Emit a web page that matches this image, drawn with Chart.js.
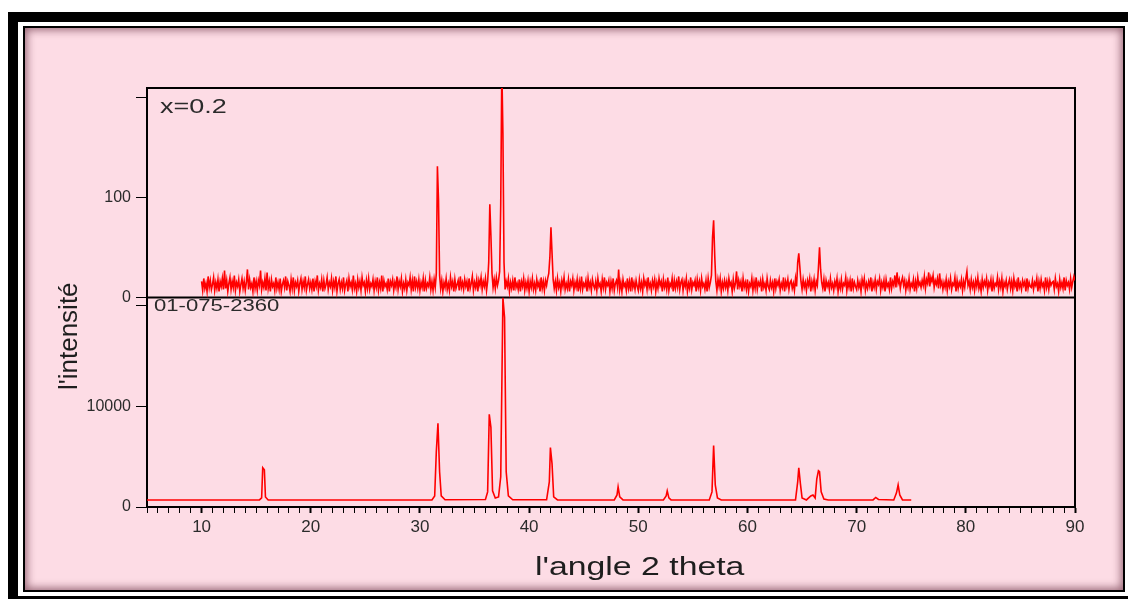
<!DOCTYPE html>
<html>
<head>
<meta charset="utf-8">
<script src="https://cdn.jsdelivr.net/npm/chart.js@4.4.0/dist/chart.umd.min.js"></script>
<style>
  html, body { margin: 0; padding: 0; background: #fff; }
  #page { position: relative; width: 1128px; height: 599px; overflow: hidden; }
  .outer { position: absolute; left: 8px; top: 12px; width: 1130px; height: 587px; box-sizing: border-box;
           border-top: 10px solid #000; border-left: 10px solid #000; border-bottom: 3px solid #000; }
  .inner { position: absolute; left: 23px; top: 26px; width: 1102px; height: 566px; box-sizing: border-box;
           border: 2px solid #000; background: #fddce5; box-shadow: inset 0 0 9px 2px rgba(70, 10, 30, 0.55); }
  canvas { position: absolute; left: 0; top: 0; }
  .lbl { position: absolute; font-family: "Liberation Sans", Arial, sans-serif; color: #2b2b2b; white-space: nowrap;
         transform-origin: 0 0; }
</style>
</head>
<body>
<div id="page">
  <div class="outer"></div>
  <div class="inner"></div>
  <canvas id="xrd-chart" width="1128" height="599"></canvas>
  <div class="lbl" style="left:160px; top:95px; font-size:20px; transform:scaleX(1.35);">x=0.2</div>
  <div class="lbl" style="left:154px; top:296px; font-size:17px; transform:scaleX(1.3);">01-075-2360</div>
  <div class="lbl" style="left:535px; top:551px; font-size:26px; color:#1e1e1e; transform:scaleX(1.3);">l'angle 2 theta</div>
  <div class="lbl" style="left:53px; top:390px; font-size:26px; color:#1e1e1e; transform:rotate(-90deg);">l'intensité</div>
</div>
<script>
// measured pattern x=0.2, one point every 0.1 deg from 10 to 90
const topStart = 10
const topStep = 0.1
const topCounts = [
    16, 7, 19, 9, 14, 6, 21, 10, 17, 8, 13, 20, 7, 15, 9, 18, 6, 16, 11, 19,          // 10
    8, 27, 9, 17, 6, 14, 20, 8, 16, 10, 22, 7, 15, 11, 18, 6, 13, 19, 9, 16,          // 12
    7, 15, 28, 8, 18, 10, 14, 6, 20, 9, 16, 7, 17, 12, 27, 8, 15, 10, 19, 7,          // 14
    25, 9, 16, 6, 18, 11, 14, 7, 20, 9, 15, 8, 19, 6, 13, 17, 10, 21, 7, 16,         // 16
    12, 6, 18, 9, 20, 7, 15, 11, 17, 6, 14, 19, 8, 16, 10, 21, 7, 13, 18, 9,          // 18
    15, 8, 19, 6, 16, 11, 22, 7, 14, 10, 18, 6, 17, 9, 13, 20, 8, 15, 11, 19,         // 20
    7, 16, 10, 21, 6, 14, 18, 8, 15, 9, 20, 7, 13, 17, 6, 19, 11, 15, 8, 22,          // 22
    9, 14, 6, 18, 10, 16, 7, 20, 12, 15, 6, 17, 9, 19, 8, 14, 11, 18, 7, 16,          // 24
    10, 20, 7, 15, 9, 22, 6, 17, 11, 14, 8, 19, 6, 16, 12, 18, 7, 15, 10, 21,         // 26
    8, 16, 11, 19, 6, 14, 9, 18, 7, 15, 12, 20, 8, 17, 6, 21, 10, 16, 9, 18,          // 28
    7, 15, 10, 19, 6, 17, 9, 14, 11, 20, 8, 16, 7, 18, 10, 24, 131, 98, 22, 9,        // 30
    17, 6, 15, 10, 19, 8, 14, 7, 20, 11, 16, 6, 18, 9, 13, 17, 7, 21, 10, 15,         // 32
    8, 18, 11, 16, 6, 19, 9, 14, 21, 7, 15, 10, 18, 6, 17, 12, 20, 8, 16, 11,         // 34
    19, 7, 16, 35, 93, 62, 24, 10, 18, 9, 20, 12, 17, 26, 93, 230, 164, 35, 8, 16,    // 36
    11, 19, 6, 15, 9, 17, 7, 20, 10, 14, 8, 18, 6, 16, 11, 19, 7, 15, 9, 17,          // 38
    6, 16, 10, 19, 8, 14, 7, 18, 11, 15, 6, 20, 9, 16, 7, 17, 12, 19, 24, 40,         // 40
    70, 44, 18, 9, 16, 7, 19, 10, 15, 6, 17, 11, 20, 8, 14, 9, 18, 6, 16, 12,         // 42
    19, 7, 15, 10, 18, 6, 16, 9, 21, 8, 14, 11, 17, 6, 19, 10, 15, 7, 18, 12,         // 44
    9, 16, 7, 19, 11, 14, 6, 18, 10, 20, 8, 15, 12, 17, 6, 16, 9, 19, 7, 14,          // 46
    17, 10, 28, 8, 15, 6, 18, 11, 14, 7, 19, 9, 16, 6, 20, 10, 15, 8, 17, 11,         // 48
    7, 18, 9, 15, 6, 19, 12, 16, 8, 20, 10, 14, 7, 17, 11, 18, 6, 15, 9, 19,          // 50
    12, 16, 6, 18, 10, 15, 8, 20, 7, 14, 11, 19, 6, 17, 9, 16, 10, 21, 8, 15,         // 52
    18, 7, 16, 11, 19, 6, 14, 9, 20, 8, 15, 12, 17, 6, 18, 10, 16, 7, 19, 11,         // 54
    14, 8, 17, 6, 19, 10, 15, 22, 60, 77, 42, 16, 7, 18, 11, 19, 6, 15, 9, 17,        // 56
    10, 16, 7, 19, 12, 15, 6, 18, 9, 14, 26, 8, 17, 11, 16, 6, 19, 10, 15, 8,         // 58
    18, 6, 14, 11, 19, 7, 16, 9, 20, 8, 15, 12, 17, 6, 18, 10, 14, 7, 19, 11,         // 60
    8, 17, 10, 15, 6, 19, 9, 16, 12, 18, 7, 14, 10, 20, 6, 16, 11, 18, 8, 15,         // 62
    17, 9, 14, 7, 19, 11, 35, 44, 30, 16, 8, 18, 10, 15, 7, 17, 12, 19, 6, 16,        // 64
    10, 18, 7, 16, 12, 30, 50, 28, 15, 9, 18, 6, 17, 11, 15, 8, 19, 10, 14, 7,        // 66
    16, 11, 19, 6, 15, 9, 18, 8, 14, 12, 20, 7, 16, 10, 17, 6, 19, 9, 15, 11,         // 68
    8, 17, 10, 15, 6, 18, 12, 19, 7, 14, 9, 16, 11, 20, 6, 15, 10, 18, 8, 16,         // 70
    13, 19, 7, 15, 10, 17, 6, 18, 11, 14, 8, 20, 9, 16, 12, 22, 10, 25, 14, 18,       // 72
    9, 16, 20, 12, 17, 7, 15, 10, 19, 8, 14, 11, 18, 6, 16, 9, 20, 12, 15, 10,        // 74
    17, 12, 21, 9, 18, 14, 25, 11, 20, 16, 22, 10, 17, 13, 19, 9, 24, 12, 16, 8,      // 76
    15, 10, 18, 7, 16, 11, 19, 8, 14, 12, 20, 6, 17, 9, 15, 11, 18, 7, 16, 10,        // 78
    19, 26, 12, 16, 8, 18, 10, 15, 7, 17, 11, 20, 9, 14, 6, 18, 10, 16, 12, 19,       // 80
    7, 15, 11, 18, 6, 17, 9, 14, 12, 20, 8, 16, 10, 19, 6, 15, 11, 17, 8, 14,         // 82
    18, 9, 16, 7, 19, 11, 15, 6, 20, 10, 14, 8, 17, 12, 16, 6, 19, 9, 15, 11,         // 84
    10, 17, 8, 15, 12, 19, 6, 16, 9, 18, 11, 14, 7, 20, 10, 16, 8, 17, 12, 15,        // 86
    16, 8, 19, 11, 14, 6, 18, 10, 15, 9, 20, 7, 17, 12, 15, 8, 19, 10, 16, 21,        // 88
    17                                                                                // 90
]

// reference card 01-075-2360
const refAngles = [
    5, 15.3, 15.5, 15.6, 15.75, 15.85, 16.1,
    31.1, 31.35, 31.5, 31.65, 31.8, 31.95, 32.3,
    36.0, 36.2, 36.35, 36.5, 36.65, 36.9, 37.2, 37.4, 37.6, 37.75, 37.9, 38.1, 38.5,
    41.6, 41.85, 41.95, 42.1, 42.25, 42.6,
    47.8, 48.05, 48.15, 48.3, 48.6,
    52.3, 52.55, 52.65, 52.8, 53.0,
    56.5, 56.75, 56.9, 57.05, 57.25, 57.6,
    64.4, 64.6, 64.7, 64.85, 65.0, 65.4, 65.8, 66.0, 66.2, 66.35, 66.5, 66.6, 66.75, 67.0, 67.4,
    71.5, 71.75, 72.0, 73.4, 73.65, 73.8, 73.95, 74.2, 75
]
const refCounts = [
    700, 700, 900, 3900, 3700, 1000, 700,
    700, 1100, 5500, 8300, 3500, 1100, 720,
    750, 1500, 9200, 7900, 1600, 900, 1000, 3000, 20800, 18800, 3500, 1100, 720,
    720, 2500, 5900, 4300, 1000, 700,
    700, 1200, 2000, 1000, 700,
    700, 1100, 1600, 900, 700,
    700, 1500, 6100, 2200, 900, 700,
    700, 2500, 3900, 2300, 900, 700, 1100, 1200, 900, 2800, 3600, 3500, 1500, 800, 700,
    700, 950, 750, 700, 1400, 2200, 1200, 700, 700
]

const topTicks = [0, 100, 200]
const topTickLabels = ['0', '100', '']
const refTicks = [0, 10000, 20000]
const refTickLabels = ['0', '10000', '']
const angleMin = 5
const angleMax = 90

function buildChart() {
    let topData = topCounts.map((v, i) => ({ x: topStart + i * topStep, y: v }))
    let refData = refAngles.map((a, i) => ({ x: a, y: refCounts[i] }))

    let tickFont = { family: "'Liberation Sans', Arial, sans-serif", size: 16 }
    let frame = {
        id: 'frame',
        beforeDatasetsDraw(chart) {
            let c = chart.ctx
            let a = chart.chartArea
            let split = chart.scales.yTop.bottom
            c.save()
            c.strokeStyle = '#000'
            c.lineWidth = 2
            c.strokeRect(a.left, a.top, a.right - a.left, a.bottom - a.top)
            c.beginPath()
            c.moveTo(a.left, split)
            c.lineTo(a.right, split)
            c.stroke()
            c.restore()
        }
    }

    new Chart(document.getElementById('xrd-chart'), {
        type: 'line',
        data: {
            datasets: [
                { label: 'x=0.2', data: topData, yAxisID: 'yTop', borderColor: '#ff0000',
                  borderWidth: 1.6, pointRadius: 0, tension: 0 },
                { label: '01-075-2360', data: refData, yAxisID: 'yRef', borderColor: '#ff0000',
                  borderWidth: 1.6, pointRadius: 0, tension: 0 }
            ]
        },
        options: {
            responsive: false,
            animation: false,
            layout: { padding: { left: 82, right: 53, top: 88, bottom: 62 } },
            plugins: { legend: { display: false }, tooltip: { enabled: false } },
            scales: {
                x: {
                    type: 'linear', min: angleMin, max: angleMax,
                    afterBuildTicks: s => {
                        let t = []
                        for (let v = angleMin; v <= angleMax; v++) t.push({ value: v })
                        s.ticks = t
                    },
                    afterFit: s => { s.height = 30 },
                    ticks: {
                        autoSkip: false, maxRotation: 0, padding: 4, color: '#2b2b2b',
                        font: { family: "'Liberation Sans Narrow', 'Liberation Sans', Arial, sans-serif", size: 17 },
                        callback: v => (v % 10 === 0 ? String(v) : '')
                    },
                    grid: { drawOnChartArea: false, tickLength: 6, color: '#000',
                            tickWidth: c => (c.tick && c.tick.value % 10 === 0 ? 2 : 1) },
                    border: { color: '#000', width: 2 }
                },
                yRef: {
                    type: 'linear', position: 'left', stack: 'xrd', stackWeight: 1,
                    min: 0, max: 20800,
                    afterBuildTicks: s => { s.ticks = refTicks.map(v => ({ value: v })) },
                    afterFit: s => { s.width = 65 },
                    ticks: { color: '#2b2b2b', font: tickFont, padding: 5,
                             callback: (v, i) => refTickLabels[i] },
                    grid: { drawOnChartArea: false, tickLength: 11, color: '#000' },
                    border: { color: '#000', width: 2 }
                },
                yTop: {
                    type: 'linear', position: 'left', stack: 'xrd', stackWeight: 1,
                    min: 0, max: 209,
                    afterBuildTicks: s => { s.ticks = topTicks.map(v => ({ value: v })) },
                    afterFit: s => { s.width = 65 },
                    ticks: { color: '#2b2b2b', font: tickFont, padding: 5,
                             callback: (v, i) => topTickLabels[i] },
                    grid: { drawOnChartArea: false, tickLength: 11, color: '#000' },
                    border: { color: '#000', width: 2 }
                }
            }
        },
        plugins: [frame]
    })
}

buildChart()
</script>
</body>
</html>
